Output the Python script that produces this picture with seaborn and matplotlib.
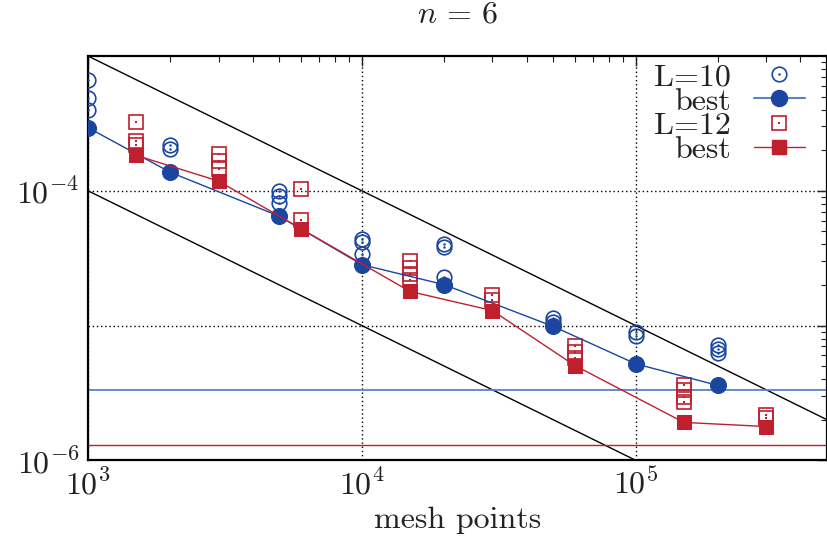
#!/usr/bin/env python3
# -*- coding: utf-8 -*-
"""
Error versus number of mesh points, n = 6, for L=10 and L=12 runs.
"""

import matplotlib.pyplot as plt
import matplotlib.ticker as ticker
import numpy as np
import seaborn as sns
from matplotlib.legend_handler import HandlerLine2D, HandlerTuple
from matplotlib.lines import Line2D

# L=10 runs (all non-best runs)
l10_mesh = [1e3, 1e3, 1e3, 2e3, 2e3, 5e3, 5e3, 5e3, 1e4, 1e4, 1e4,
            2e4, 2e4, 2e4, 5e4, 5e4, 1e5, 1e5, 2e5, 2e5, 2e5]
l10_err = [6.6e-4, 4.9e-4, 4.0e-4, 2.2e-4, 2.05e-4, 9.9e-5, 9.1e-5, 8.1e-5,
           4.4e-5, 4.2e-5, 3.4e-5, 4.0e-5, 3.8e-5, 2.3e-5, 1.14e-5, 1.07e-5,
           8.9e-6, 8.4e-6, 7.2e-6, 6.7e-6, 6.25e-6]
# L=10 best run per mesh size
l10_best_mesh = [1e3, 2e3, 5e3, 1e4, 2e4, 5e4, 1e5, 2e5]
l10_best_err = [2.94e-4, 1.37e-4, 6.47e-5, 2.83e-5, 2.01e-5, 9.85e-6,
                5.2e-6, 3.59e-6]

# L=12 runs (all non-best runs)
l12_mesh = [1.5e3, 1.5e3, 1.5e3, 3e3, 3e3, 3e3, 6e3, 6e3,
            1.5e4, 1.5e4, 1.5e4, 1.5e4, 3e4, 3e4, 6e4, 6e4, 6e4,
            1.5e5, 1.5e5, 1.5e5, 1.5e5, 3e5, 3e5]
l12_err = [3.26e-4, 2.34e-4, 2.17e-4, 1.86e-4, 1.67e-4, 1.44e-4, 1.03e-4,
           6.1e-5, 3.0e-5, 2.68e-5, 2.43e-5, 2.19e-5, 1.69e-5, 1.56e-5,
           7.0e-6, 6.4e-6, 5.7e-6, 3.63e-6, 3.33e-6, 2.97e-6, 2.73e-6,
           2.17e-6, 2.05e-6]
# L=12 best run per mesh size
l12_best_mesh = [1.5e3, 3e3, 6e3, 1.5e4, 3e4, 6e4, 1.5e5, 3e5]
l12_best_err = [1.83e-4, 1.18e-4, 5.22e-5, 1.79e-5, 1.29e-5, 5.05e-6,
                1.91e-6, 1.78e-6]

# Error floors for each L
l10_floor = 3.3e-6
l12_floor = 1.3e-6

# Slope -1 guide lines
ref_mesh = [1e3, 5e5]
ref_upper = [1e-3, 2e-6]
ref_lower = [1e-4, 2e-7]

BLUE = "#1a46a0"
BLUE_LIGHT = "#5c82c6"
RED = "#c01f2e"
TEXT = "#222222"

sns.set_style("white")
plt.rcParams["mathtext.fontset"] = "cm"
plt.rcParams["font.family"] = ["cmr10", "DejaVu Serif"]
plt.rcParams["axes.formatter.use_mathtext"] = True

fig, ax = plt.subplots(figsize=(8.27, 5.46), dpi=100)
fig.subplots_adjust(left=0.1064, right=1.0, bottom=0.157, top=0.8974)

# Guide lines
sns.lineplot(x=ref_mesh, y=ref_upper, ax=ax, color="k", lw=1.0,
             estimator=None, zorder=2)
sns.lineplot(x=ref_mesh, y=ref_lower, ax=ax, color="k", lw=1.0,
             estimator=None, zorder=2)
ax.axhline(l10_floor, color=BLUE_LIGHT, lw=1.3, zorder=2)
ax.axhline(l12_floor, color=RED, lw=1.0, zorder=2)

# All runs: open markers with a small dot in the centre
sns.lineplot(x=l10_mesh, y=l10_err, ax=ax, estimator=None, ls="",
             marker="o", ms=10.5, mfc="none", mec=BLUE, mew=1.2, zorder=3)
sns.lineplot(x=l10_mesh, y=l10_err, ax=ax, estimator=None, ls="",
             marker="o", ms=1.8, mfc=BLUE, mec=BLUE, mew=0, zorder=3)
sns.lineplot(x=l12_mesh, y=l12_err, ax=ax, estimator=None, ls="",
             marker="s", ms=9.5, mfc="none", mec=RED, mew=1.2, zorder=3)
sns.lineplot(x=l12_mesh, y=l12_err, ax=ax, estimator=None, ls="",
             marker="s", ms=1.8, mfc=RED, mec=RED, mew=0, zorder=3)

# Best runs
sns.lineplot(x=l10_best_mesh, y=l10_best_err, ax=ax, estimator=None,
             color=BLUE, lw=1.0, marker="o", ms=11.5, mfc=BLUE, mec=BLUE,
             zorder=4)
sns.lineplot(x=l12_best_mesh, y=l12_best_err, ax=ax, estimator=None,
             color=RED, lw=1.0, marker="s", ms=10.5, mfc=RED, mec=RED,
             zorder=4)

ax.set_xscale("log")
ax.set_yscale("log")
ax.set_xlim(1e3, 5e5)
ax.set_ylim(1e-6, 1e-3)

ax.xaxis.set_major_locator(ticker.FixedLocator([1e3, 1e4, 1e5]))
ax.xaxis.set_major_formatter(ticker.FixedFormatter(
    [r"$10^{3}$", r"$10^{4}$", r"$10^{5}$"]))
ax.xaxis.set_minor_locator(ticker.LogLocator(base=10, subs=np.arange(2, 10)))
ax.xaxis.set_minor_formatter(ticker.NullFormatter())
ax.yaxis.set_major_locator(ticker.FixedLocator([1e-6, 1e-5, 1e-4]))
ax.yaxis.set_major_formatter(ticker.FixedFormatter(
    [r"$10^{-6}$", "", r"$10^{-4}$"]))
ax.yaxis.set_minor_locator(ticker.LogLocator(base=10, subs=np.arange(2, 10)))
ax.yaxis.set_minor_formatter(ticker.NullFormatter())

ax.tick_params(which="both", direction="in", top=True, right=True,
               labelsize=23, colors=TEXT)
ax.tick_params(which="major", length=7, width=1.0, pad=6)
ax.tick_params(which="minor", length=4, width=0.8)
ax.grid(which="major", ls=(0, (1, 2)), color="k", lw=1.0)
for s in ax.spines.values():
    s.set_linewidth(1.6)
    s.set_color("k")

ax.set_xlabel("mesh points", fontsize=23, color=TEXT)
ax.set_title(r"$n\,=\,6$", fontsize=23, color=TEXT, pad=24)

# Legend: label first, marker on the right
l10_h = (Line2D([], [], ls="", marker="o", ms=10.5, mfc="none", mec=BLUE,
                mew=1.2),
         Line2D([], [], ls="", marker="o", ms=1.8, mfc=BLUE, mew=0))
l12_h = (Line2D([], [], ls="", marker="s", ms=9.5, mfc="none", mec=RED,
                mew=1.2),
         Line2D([], [], ls="", marker="s", ms=1.8, mfc=RED, mew=0))
b10_h = Line2D([], [], color=BLUE_LIGHT, lw=1.5, marker="o", ms=11.5,
               mfc=BLUE, mec=BLUE)
b12_h = Line2D([], [], color=RED, lw=1.0, marker="s", ms=10.5,
               mfc=RED, mec=RED)
ax.legend([l10_h, b10_h, l12_h, b12_h], ["L=10", "best", "L=12", "best"],
          handler_map={Line2D: HandlerLine2D(ypad=-0.25),
                       tuple: HandlerTuple(ndivide=1, ypad=-0.25)},
          loc="upper right", bbox_to_anchor=(1.0, 1.038),
          markerfirst=False, frameon=False,
          prop={"family": "cmr10", "size": 23}, labelspacing=-0.13,
          handlelength=1.6, handletextpad=0.7, borderaxespad=0.3,
          labelcolor=TEXT)

plt.savefig("out.png", dpi=100)
